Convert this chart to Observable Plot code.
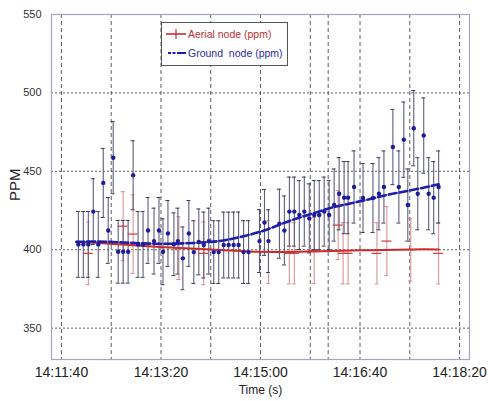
<!DOCTYPE html>
<html>
<head>
<meta charset="utf-8">
<script src="https://cdn.jsdelivr.net/npm/d3@7"></script>
<script src="https://cdn.jsdelivr.net/npm/@observablehq/plot@0.6"></script>
<style>
  html, body { margin: 0; padding: 0; background: #fff; }
  #chart { position: relative; width: 488px; height: 401px; }
  svg { font-family: "Liberation Sans", Arial, sans-serif; }
</style>
</head>
<body>
<div id="chart"></div>
<script>
// ---- data ----
const groundTimes = ["14:11:57","14:12:02","14:12:07","14:12:12","14:12:17","14:12:22","14:12:27","14:12:32","14:12:37","14:12:42","14:12:47","14:12:52","14:12:57","14:13:02","14:13:07","14:13:13","14:13:18","14:13:22","14:13:27","14:13:33","14:13:37","14:13:42","14:13:48","14:13:53","14:13:58","14:14:03","14:14:08","14:14:13","14:14:18","14:14:23","14:14:28","14:14:33","14:14:38","14:14:43","14:14:48","14:14:59","14:15:04","14:15:08","14:15:19","14:15:24","14:15:29","14:15:34","14:15:39","14:15:44","14:15:49","14:15:54","14:15:59","14:16:04","14:16:09","14:16:14","14:16:19","14:16:24","14:16:28","14:16:34","14:16:43","14:16:53","14:16:59","14:17:04","14:17:13","14:17:19","14:17:24","14:17:28","14:17:34","14:17:38","14:17:44","14:17:49","14:17:54","14:17:59"];
const groundPPM = [403.4,403.4,403.4,424.3,403.4,442.6,412.3,458.7,398.7,398.7,398.7,447.5,403.4,403.4,412.3,405.5,412.3,398.7,410.4,403.5,405.5,394.5,410.4,398.5,405,403,405.5,398.5,398.5,403,403,403,403,398.5,398.5,405.5,417.4,405.5,416.6,412.3,424.3,424.3,422.1,424.3,420,422.1,422.1,424.3,422.1,428.5,435.7,433.2,433.2,440,433,433,435.7,440,465.5,440,470.2,428.5,477.5,435.7,472.8,435.7,433.2,440];
const groundErr = [21,21,21,21,21,22,21,23,20,20,20,22,21,21,21,21,21,21,21,20,21,20,21,20,21,21,21,20,20,21,21,21,21,20,20,20,21,20,22,22,22,22,22,22,22,22,22,22,22,23,23,23,23,23,22,22,23,23,24,23,24,23,24,23,24,23,23,23];

const aerialTimes = ["14:12:07","14:12:42","14:12:52","14:13:38","14:14:03","14:15:08","14:15:29","14:15:34","14:15:54","14:16:18","14:16:23","14:16:28","14:16:57","14:17:07","14:17:31","14:17:59"];
const aerialPPM = [397.7,415,410,401,397.7,398.5,397.7,397.7,399.5,415.7,397.7,397.7,397.7,405.5,400,397.7];
const aerialErr = [20,22,25,20,20,20,19.5,19.5,21,22,19.5,19.5,19.5,22,20,19.5];
const aerialTimeErr = 5; // seconds, horizontal half-width of the aerial markers

const aerialFitTimes = ["14:11:55","14:12:29","14:13:19","14:14:10","14:15:00","14:15:50","14:16:41","14:17:31","14:17:59"];
const aerialFitPPM = [405.1,403.8,401.7,400.2,398.7,398.9,399.6,400.2,400.2];

const groundFitTimes = ["14:11:55","14:12:29","14:13:19","14:14:10","14:14:33","14:15:00","14:15:27","14:15:50","14:16:14","14:16:41","14:17:07","14:17:31","14:17:59"];
const groundFitPPM = [405,405,403.8,405,407.2,411.5,417.9,422.6,427.2,431,434.9,437.9,441.7];

const xTickLabels = ["14:11:40","14:13:20","14:15:00","14:16:40","14:18:20"];
const xGridLabels = ["14:11:40","14:12:30","14:13:20","14:14:10","14:15:00","14:15:50","14:16:08","14:16:40","14:17:30","14:18:20"];
const yTicks = [350,400,450,500,550];
const yGrid = [350,400,450,500];
const xDomainLabels = ["14:11:30","14:18:30"];
const yDomain = [330,550];

const legendLabels = ["Aerial node (ppm)", "Ground  node (ppm)"];
const axisTitles = {x: "Time (s)", y: "PPM"};

// ---- helpers ----
const sec = s => { const [h,m,x] = s.split(":").map(Number); return h*3600 + m*60 + x; };
const fmt = v => { const h = Math.floor(v/3600), m = Math.floor((v%3600)/60), s = Math.round(v%60); return `${h}:${String(m).padStart(2,"0")}:${String(s).padStart(2,"0")}`; };

const ground = groundTimes.map((t,i) => ({t: sec(t), v: groundPPM[i], e: groundErr[i]}));
const aerial = aerialTimes.map((t,i) => ({t: sec(t), v: aerialPPM[i], e: aerialErr[i]}));
const aerialFit = aerialFitTimes.map((t,i) => ({t: sec(t), v: aerialFitPPM[i]}));
const groundFit = groundFitTimes.map((t,i) => ({t: sec(t), v: groundFitPPM[i]}));

const capHalf = 2; // seconds

const plot = Plot.plot({
  width: 488,
  height: 401,
  marginTop: 14,
  marginRight: 19,
  marginBottom: 42,
  marginLeft: 51,
  style: {fontFamily: "'Liberation Sans', Arial, sans-serif", background: "#fff"},
  x: {domain: xDomainLabels.map(sec), axis: null},
  y: {domain: yDomain, axis: null},
  marks: [
    Plot.ruleY(yGrid, {stroke: "#333", strokeWidth: 0.8, strokeDasharray: "2,2"}),
    Plot.ruleX(xGridLabels.map(sec), {stroke: "#333", strokeWidth: 0.8, strokeDasharray: "4,3"}),
    Plot.frame({stroke: "#a4a4c4", strokeWidth: 1.2}),
    Plot.axisX(xTickLabels.map(sec), {tickSize: 0, tickPadding: 8, fontSize: 14, tickFormat: fmt, label: null, fill: "#222"}),
    Plot.axisY(yTicks, {tickSize: 0, tickPadding: 10, fontSize: 11, label: null, fill: "#333"}),
    Plot.text([axisTitles.x], {frameAnchor: "bottom", dy: 34, text: d => d, fontSize: 12, fill: "#222"}),
    Plot.text([axisTitles.y], {frameAnchor: "left", dx: -36, dy: 14, rotate: -90, text: d => d, fontSize: 15, fill: "#222"}),
    // aerial error bars
    Plot.ruleX(aerial, {x: "t", y1: d => d.v - d.e, y2: d => d.v + d.e, stroke: "#d98a8a", strokeWidth: 1}),
    Plot.ruleY(aerial, {y: d => d.v - d.e, x1: d => d.t - capHalf, x2: d => d.t + capHalf, stroke: "#d98a8a", strokeWidth: 1}),
    Plot.ruleY(aerial, {y: d => d.v + d.e, x1: d => d.t - capHalf, x2: d => d.t + capHalf, stroke: "#d98a8a", strokeWidth: 1}),
    // ground error bars
    Plot.ruleX(ground, {x: "t", y1: d => d.v - d.e, y2: d => d.v + d.e, stroke: "#5e5e7c", strokeWidth: 1.1}),
    Plot.ruleY(ground, {y: d => d.v - d.e, x1: d => d.t - capHalf, x2: d => d.t + capHalf, stroke: "#3a3a55", strokeWidth: 1}),
    Plot.ruleY(ground, {y: d => d.v + d.e, x1: d => d.t - capHalf, x2: d => d.t + capHalf, stroke: "#3a3a55", strokeWidth: 1}),
    // fits
    Plot.line(aerialFit, {x: "t", y: "v", stroke: "#cc2a2a", strokeWidth: 2, curve: "natural"}),
    Plot.line(groundFit, {x: "t", y: "v", stroke: "#1e1eaa", strokeWidth: 2.6, strokeDasharray: "8,3", curve: "natural"}),
    // aerial horizontal markers
    Plot.ruleY(aerial, {y: "v", x1: d => d.t - aerialTimeErr, x2: d => d.t + aerialTimeErr, stroke: "#cc3a3a", strokeWidth: 1.2}),
    // ground points
    Plot.dot(ground, {x: "t", y: "v", r: 2.2, fill: "#1c1c9c", stroke: "none"})
  ]
});

document.getElementById("chart").appendChild(plot);

// legend
const svg = d3.select(plot);
const lg = svg.append("g").attr("text-anchor", "start");
lg.append("rect").attr("x", 161.5).attr("y", 22.5).attr("width", 126).attr("height", 43)
  .attr("fill", "#fff").attr("stroke", "#555").attr("stroke-width", 1);
lg.append("line").attr("x1", 166).attr("x2", 186).attr("y1", 34).attr("y2", 34).attr("stroke", "#cc2a2a").attr("stroke-width", 1.6);
lg.append("line").attr("x1", 176).attr("x2", 176).attr("y1", 29).attr("y2", 39).attr("stroke", "#cc2a2a").attr("stroke-width", 1.2);
lg.append("text").attr("x", 188).attr("y", 34).attr("dy", "0.35em").attr("text-anchor", "start").attr("font-size", 10.5).attr("fill", "#c03030").text(legendLabels[0]);
lg.append("line").attr("x1", 168).attr("x2", 186).attr("y1", 53).attr("y2", 53).attr("stroke", "#1e1eaa").attr("stroke-width", 2.2).attr("stroke-dasharray", "3,1.5,3,1.5,20");
lg.append("text").attr("x", 188).attr("y", 53).attr("dy", "0.35em").attr("text-anchor", "start").attr("font-size", 10.5).attr("fill", "#2a2a9a").text(legendLabels[1]);
</script>
</body>
</html>
